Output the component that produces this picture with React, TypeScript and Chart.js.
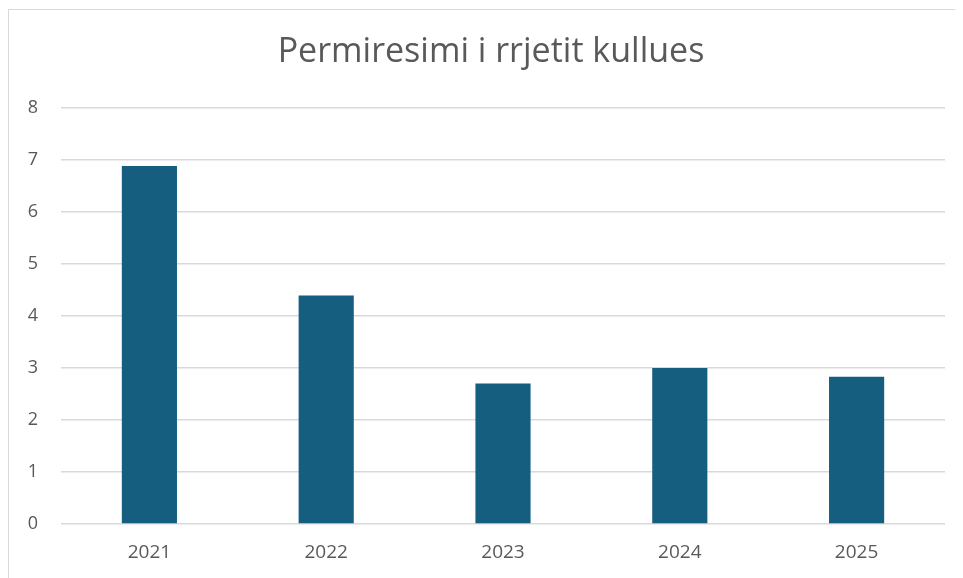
import React, { useEffect, useRef } from "react";
import { Chart, registerables } from "chart.js";

Chart.register(...registerables);

const titleText = "Permiresimi i rrjetit kullues";
const categories = ["2021", "2022", "2023", "2024", "2025"];
const values = [6.88, 4.39, 2.7, 3.0, 2.83];
const yMin = 0;
const yMax = 8;
const yStep = 1;

const FONT = "'Open Sans', Roboto, sans-serif";
const TEXT = "#595959";

const shiftTitle = {
  id: "shiftTitle",
  afterLayout(chart: any) {
    const t = chart.titleBlock;
    if (t) {
      t.left += 14;
      t.right += 14;
    }
  },
};

export default function App() {
  const ref = useRef<HTMLCanvasElement | null>(null);
  useEffect(() => {
    if (!ref.current) return;
    const chart = new Chart(ref.current, {
      type: "bar",
      data: {
        labels: categories,
        datasets: [
          {
            data: values,
            backgroundColor: "#165E80",
            borderWidth: 0,
            categoryPercentage: 1,
            barPercentage: 0.312,
          },
        ],
      },
      plugins: [shiftTitle],
      options: {
        animation: false,
        responsive: false,
        maintainAspectRatio: false,
        layout: { padding: { left: 0, right: 18, top: 0, bottom: 0 } },
        plugins: {
          legend: { display: false },
          tooltip: { enabled: false },
          title: {
            display: true,
            text: titleText,
            color: TEXT,
            font: { family: FONT, size: 34, weight: "normal" },
            padding: { top: 22, bottom: 35 },
          },
        },
        scales: {
          x: {
            grid: { display: false, drawTicks: false },
            border: { display: false },
            ticks: {
              color: TEXT,
              font: { family: FONT, size: 19 },
              padding: 17,
            },
            afterFit: (s: any) => {
              s.height = 55;
            },
          },
          y: {
            min: yMin,
            max: yMax,
            ticks: {
              stepSize: yStep,
              color: TEXT,
              font: { family: FONT, size: 18 },
              padding: 23,
            },
            grid: { color: "#d9d9d9", lineWidth: 1.5, drawTicks: false },
            border: { display: false },
            afterFit: (s: any) => {
              s.width = 52;
            },
          },
        },
      },
    });
    return () => chart.destroy();
  }, []);
  return (
    <div
      style={{
        marginTop: 1,
        width: 955,
        height: 569,
        borderTop: "1.5px solid #d9d9d9",
        borderLeft: "1.5px solid #d9d9d9",
        overflow: "hidden",
      }}
    >
      <canvas ref={ref} width={954} height={569} style={{ display: "block" }} />
    </div>
  );
}
